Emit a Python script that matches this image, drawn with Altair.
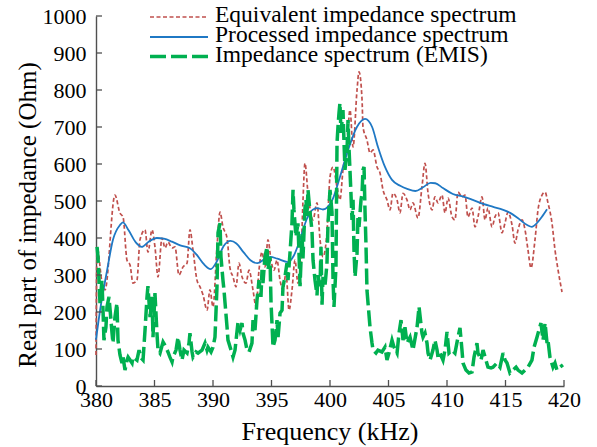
import altair as alt
import pandas as pd

# ---------------- data ----------------
red_freq = [380.0, 380.09, 380.51, 380.77, 381.62, 382.05, 382.31, 382.65, 382.91, 383.16,
            383.50, 383.76, 384.19, 384.44, 384.79, 385.04, 385.30, 385.64, 385.90, 386.15,
            386.50, 386.75, 387.09, 387.44, 387.78, 388.03, 388.29, 388.63, 388.89, 389.15,
            389.49, 389.74, 390.00, 390.34, 390.60, 390.85, 391.20, 391.45, 391.71, 391.97,
            392.22, 392.48, 392.82, 393.08, 393.42, 393.68, 393.93, 394.19, 394.44, 394.70,
            394.96, 395.21, 395.47, 395.73, 395.98, 396.24, 396.50, 396.75, 397.01, 397.26,
            397.52, 397.69, 397.86, 398.12, 398.55, 398.89, 399.15, 399.40, 399.74, 400.00,
            400.26, 400.60, 400.85, 401.11, 401.45, 401.71, 401.97, 402.31, 402.48, 402.74,
            402.82, 403.16, 403.42, 403.68, 404.02, 404.27, 404.53, 404.87, 405.13, 405.38,
            405.73, 405.98, 406.24, 406.58, 406.84, 407.09, 407.52, 407.86, 408.12, 408.38,
            408.72, 408.97, 409.23, 409.57, 409.83, 410.09, 410.43, 410.68, 410.94, 411.28,
            411.54, 411.79, 412.14, 412.39, 412.65, 412.99, 413.25, 413.50, 413.85, 414.10,
            414.36, 414.70, 414.96, 415.21, 415.56, 415.81, 416.07, 416.41, 416.67, 416.92,
            417.18, 417.52, 417.78, 418.12, 418.38, 418.63, 418.97, 419.23, 419.49, 419.83]
red_val = [84, 376, 281, 260, 516, 467, 457, 340, 327, 278,
           286, 395, 422, 362, 422, 376, 295, 400, 373, 389,
           373, 376, 300, 322, 332, 422, 368, 286, 268, 246,
           205, 260, 214, 376, 470, 430, 400, 319, 295, 268,
           332, 295, 278, 313, 259, 214, 313, 362, 322, 395,
           340, 313, 340, 286, 259, 305, 205, 259, 340, 278,
           349, 500, 602, 521, 449, 495, 395, 349, 414, 565,
           592, 538, 503, 584, 657, 746, 646, 800, 849, 773,
           700, 665, 630, 638, 592, 576, 530, 503, 476, 521,
           503, 468, 521, 503, 476, 495, 454, 538, 602, 521,
           476, 511, 495, 516, 468, 508, 457, 449, 524, 511,
           516, 457, 481, 430, 457, 511, 449, 481, 430, 457,
           468, 414, 441, 470, 435, 386, 422, 449, 422, 368,
           319, 395, 476, 516, 524, 495, 441, 368, 314, 254]

blue_freq = [380.0, 380.35, 380.95, 381.45, 382.05, 382.3, 382.8, 383.4, 383.9, 384.5,
             385.2, 385.8, 386.5, 387.2, 388.0, 388.6, 389.2, 389.8, 390.3, 390.9,
             391.5, 392.0, 392.6, 393.2, 393.8, 394.4, 394.9, 395.5, 396.4, 396.9,
             397.4, 398.0, 398.5, 398.9, 399.4, 400.2, 400.85, 401.55, 402.3, 403.0,
             403.6, 404.1, 404.7, 405.3, 406.0, 406.65, 407.3, 407.95, 408.6, 409.0,
             409.65, 410.5, 411.4, 412.2, 413.1, 413.95, 414.8, 415.4, 416.05, 416.85,
             417.25, 417.7, 418.1, 418.55]
blue_val = [125, 205, 313, 395, 435, 442, 420, 388, 376, 390,
            400, 398, 390, 380, 373, 355, 330, 316, 335, 378,
            392, 385, 362, 340, 332, 343, 349, 344, 335, 352,
            392, 450, 476, 481, 477, 503, 565, 638, 700, 722,
            700, 646, 592, 557, 541, 532, 527, 537, 549, 548,
            535, 519, 512, 503, 492, 484, 476, 468, 454, 435,
            430, 441, 457, 478]

green_freq = [380.09, 380.17, 380.26, 380.34, 380.51, 380.60, 380.68, 380.85, 380.94, 381.11,
              381.28, 381.37, 381.45, 381.62, 381.79, 381.88, 382.05, 382.22, 382.31, 382.48,
              382.65, 382.74, 382.91, 383.08, 383.16, 383.50, 383.68, 383.85, 384.02, 384.19,
              384.36, 384.44, 384.62, 384.79, 384.87, 385.04, 385.21, 385.30, 385.47, 385.73,
              385.98, 386.15, 386.32, 386.50, 386.58, 386.84, 387.01, 387.18, 387.35, 387.52,
              387.78, 387.95, 388.03, 388.21, 388.29, 388.55, 388.72, 389.06, 389.32, 389.49,
              389.57, 389.83, 390.00, 390.17, 390.34, 390.43, 390.60, 390.68, 390.85, 390.94,
              391.03, 391.20, 391.28, 391.54, 391.71, 391.88, 392.14, 392.31, 392.48, 392.56,
              392.74, 392.91, 393.08, 393.33, 393.42, 393.59, 393.76, 393.85, 393.93, 394.10,
              394.19, 394.27, 394.44, 394.62, 394.70, 394.87, 394.96, 395.04, 395.13, 395.30,
              395.47, 395.56, 395.73, 395.90, 395.98, 396.15, 396.32, 396.41, 396.58, 396.75,
              396.84, 396.92, 397.09, 397.26, 397.35, 397.44, 397.61, 397.69, 397.86, 397.95,
              398.03, 398.12, 398.29, 398.46, 398.55, 398.72, 398.89, 398.97, 399.15, 399.23,
              399.32, 399.40, 399.57, 399.74, 399.83, 400.00, 400.17, 400.26, 400.34, 400.51,
              400.60, 400.68, 400.77, 400.85, 400.94, 401.11, 401.20, 401.28, 401.45, 401.54,
              401.62, 401.79, 401.88, 401.97, 402.05, 402.14, 402.31, 402.39, 402.48, 402.65,
              402.74, 402.82, 402.91, 402.99, 403.08, 403.16, 403.25, 403.42, 403.59, 403.68,
              403.93, 404.10, 404.44, 404.70, 404.87, 405.04, 405.30, 405.47, 405.73, 405.90,
              406.07, 406.24, 406.41, 406.58, 406.84, 407.09, 407.44, 407.61, 407.86, 407.95,
              408.12, 408.29, 408.38, 408.55, 408.80, 408.97, 409.15, 409.23, 409.40, 409.66,
              409.83, 410.00, 410.17, 410.43, 410.68, 410.94, 411.11, 411.28, 411.37, 411.62,
              411.88, 412.14, 412.31, 412.56, 412.65, 412.91, 413.08, 413.33, 413.50, 413.76,
              413.93, 414.27, 414.53, 414.79, 414.96, 415.13, 415.38, 415.64, 415.90, 416.07,
              416.41, 416.67, 416.92, 417.26, 417.44, 417.69, 417.86, 418.03, 418.21, 418.38,
              418.55, 418.63, 418.80, 419.06, 419.23, 419.40, 419.66, 419.91]
green_val = [376, 349, 286, 224, 286, 205, 124, 159, 214, 241,
             178, 143, 116, 186, 224, 124, 84, 62, 78, 43,
             70, 78, 70, 62, 78, 70, 97, 76, 70, 151,
             241, 270, 186, 241, 132, 251, 143, 97, 89, 119,
             105, 92, 78, 65, 78, 97, 132, 97, 70, 97,
             89, 116, 143, 92, 78, 92, 89, 97, 116, 97,
             105, 92, 105, 132, 268, 414, 440, 349, 286, 259,
             224, 159, 124, 97, 78, 97, 173, 151, 170, 143,
             124, 97, 92, 116, 178, 151, 232, 259, 286, 241,
             314, 278, 349, 376, 314, 349, 224, 170, 105, 124,
             178, 132, 197, 205, 268, 295, 332, 286, 359, 440,
             530, 476, 403, 440, 359, 270, 410, 345, 480, 503,
             460, 530, 470, 420, 340, 286, 245, 300, 270, 376,
             220, 295, 270, 330, 440, 530, 470, 286, 214, 322,
             657, 700, 738, 765, 684, 746, 657, 584, 630, 719,
             646, 521, 449, 503, 368, 295, 359, 457, 430, 503,
             521, 584, 592, 476, 376, 259, 224, 159, 116, 97,
             89, 97, 92, 105, 70, 89, 124, 105, 89, 143,
             178, 124, 159, 116, 132, 97, 159, 214, 143, 132,
             143, 116, 89, 70, 97, 124, 97, 78, 89, 70,
             97, 146, 89, 97, 89, 132, 157, 97, 62, 43,
             35, 38, 78, 116, 89, 70, 97, 70, 51, 49,
             51, 62, 51, 89, 70, 62, 35, 43, 51, 43,
             35, 43, 51, 70, 105, 132, 151, 170, 124, 170,
             116, 124, 78, 51, 62, 43, 51, 57]

x_ticks = [380, 385, 390, 395, 400, 405, 410, 415, 420]
y_ticks = [0, 100, 200, 300, 400, 500, 600, 700, 800, 900, 1000]
x_title = "Frequency (kHz)"
y_title = "Real part of impedance (Ohm)"
legend_labels = ["Equivalent impedance spectrum",
                 "Processed impedance spectrum",
                 "Impedance spectrum (EMIS)"]

# ---------------- styling ----------------
FONT = "Liberation Serif"
RED = "#C0504D"
BLUE = "#1F78C4"
GREEN = "#00B050"
AXIS_C = "#505050"
W, H = 468, 370

xscale = alt.Scale(domain=[380, 420], nice=False, zero=False)
yscale = alt.Scale(domain=[0, 1000], nice=False)

red_df = pd.DataFrame({"f": red_freq, "z": red_val})
blue_df = pd.DataFrame({"f": blue_freq, "z": blue_val})
green_df = pd.DataFrame({"f": green_freq, "z": green_val})
xt_df = pd.DataFrame({"f": x_ticks})
yt_df = pd.DataFrame({"z": y_ticks})
one = alt.Data(values=[{"k": 1}])

x_axis = alt.Axis(values=x_ticks, title=None, format="d",
                  ticks=False, labelPadding=3, grid=False, labelFlush=False)
y_axis = alt.Axis(values=y_ticks, title=None, format="d",
                  ticks=False, labelPadding=10, grid=False, labelFlush=False)

X = alt.X("f:Q", scale=xscale, axis=x_axis)
Y = alt.Y("z:Q", scale=yscale, axis=y_axis)

red = alt.Chart(red_df).mark_line(color=RED, strokeWidth=1.7, strokeDash=[4, 2.5],
                                  interpolate="monotone").encode(x=X, y=Y)
blue = alt.Chart(blue_df).mark_line(color=BLUE, strokeWidth=1.8,
                                    interpolate="monotone").encode(x=X, y=Y)
green = alt.Chart(green_df).mark_line(color=GREEN, strokeWidth=3.5,
                                      strokeDash=[16, 5]).encode(x=X, y=Y)

# inward-pointing ticks
xt = alt.Chart(xt_df).mark_rule(color=AXIS_C, strokeWidth=1.3).encode(
    x=X, y=alt.value(H), y2=alt.value(H - 6),
)
yt = alt.Chart(yt_df).mark_rule(color=AXIS_C, strokeWidth=1.3).encode(
    y=Y, x=alt.value(0), x2=alt.value(6),
)

# axis titles as text marks (serif)
xtitle = alt.Chart(one).mark_text(align="center", baseline="alphabetic", font=FONT,
                                  fontSize=26, color="black").encode(
    x=alt.value(W / 2), y=alt.value(H + 54), text=alt.value(x_title))
ytitle = alt.Chart(one).mark_text(align="center", baseline="alphabetic", font=FONT,
                                  fontSize=25, color="black", angle=270).encode(
    x=alt.value(-60), y=alt.value(199), text=alt.value(y_title))

# manual legend
leg_layers = []
styles = [
    dict(color=RED, strokeWidth=1.7, strokeDash=[4, 2.5]),
    dict(color=BLUE, strokeWidth=1.8),
    dict(color=GREEN, strokeWidth=3.5, strokeDash=[16, 5]),
]
line_y = [1, 21, 40.5]
text_y = [6, 26, 46]
for lab, st, ly, ty in zip(legend_labels, styles, line_y, text_y):
    leg_layers.append(
        alt.Chart(one).mark_rule(**st).encode(
            x=alt.value(54), x2=alt.value(112), y=alt.value(ly))
    )
    leg_layers.append(
        alt.Chart(one).mark_text(align="left", baseline="alphabetic", font=FONT,
                                 fontSize=23.5, color="black").encode(
            x=alt.value(119), y=alt.value(ty), text=alt.value(lab))
    )

chart = alt.layer(red, blue, green, xt, yt, xtitle, ytitle, *leg_layers).properties(
    width=W, height=H,
    autosize=alt.AutoSizeParams(type="none"),
    padding={"left": 96, "top": 16, "right": 33, "bottom": 61},
    background="white",
).configure_view(stroke=None).configure_axis(
    domainColor=AXIS_C, domainWidth=1.4,
    labelFont=FONT, labelFontSize=22, labelColor="black",
)

chart.save("out.html", embed_options={"renderer": "svg", "actions": False})
